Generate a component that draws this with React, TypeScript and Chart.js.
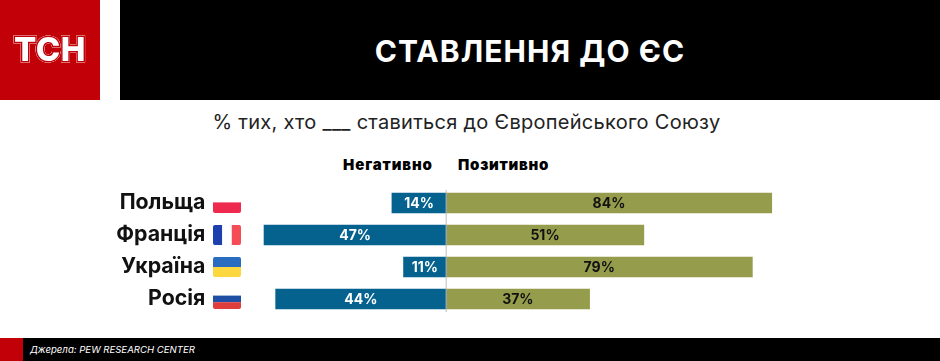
import React, { useEffect, useRef } from "react";
import { Chart, registerables } from "chart.js";

Chart.register(...registerables);

const countries = ["Польща", "Франція", "Україна", "Росія"];
const negative = [14, 47, 11, 44];
const positive = [84, 51, 79, 37];
const flags: string[][] = [
  ["#ffffff", "#ee2a4f"],
  ["#1e3fae", "#ffffff", "#f54d57"],
  ["#2a6cc0", "#fdd73f"],
  ["#ffffff", "#1e4fa5", "#df3c3c"],
];
const flagSplit = [[0, 0.47, 1], [0, 0.33, 0.67, 1], [0, 0.5, 1], [0, 0.33, 0.66, 1]];

const FONT = "Inter, 'Open Sans', sans-serif";

const overlay = {
  id: "overlay",
  afterDatasetsDraw(chart: any) {
    const { ctx, scales } = chart;
    const x = scales.x;
    const y = scales.y;
    const zero = x.getPixelForValue(0);
    ctx.save();
    ctx.strokeStyle = "#bdbdbd";
    ctx.lineWidth = 1;
    ctx.beginPath();
    ctx.moveTo(zero, y.top + 3);
    ctx.lineTo(zero, y.bottom - 3);
    ctx.stroke();

    ctx.textAlign = "center";
    ctx.textBaseline = "middle";
    ctx.font = `700 14px ${FONT}`;
    countries.forEach((_, i) => {
      const cy = y.getPixelForValue(i);
      const nx = (x.getPixelForValue(-negative[i]) + zero) / 2;
      const px = (x.getPixelForValue(positive[i]) + zero) / 2;
      ctx.fillStyle = "#ffffff";
      ctx.fillText(`${negative[i]}%`, nx, cy + 0.5);
      ctx.fillStyle = "#111111";
      ctx.fillText(`${positive[i]}%`, px, cy + 0.5);

      const fx = 213;
      const fw = 28;
      const top = cy - 10;
      const h = 20;
      ctx.save();
      ctx.beginPath();
      ctx.roundRect(fx, top, fw, h, 2);
      ctx.clip();
      const horizontal = i !== 1;
      flags[i].forEach((c, k) => {
        ctx.fillStyle = c;
        const a = flagSplit[i][k];
        const b = flagSplit[i][k + 1];
        if (horizontal) ctx.fillRect(fx, top + a * h, fw, (b - a) * h);
        else ctx.fillRect(fx + a * fw, top, (b - a) * fw, h);
      });
      ctx.restore();
    });
    ctx.restore();
  },
};

const abs = (s: React.CSSProperties): React.CSSProperties => ({ position: "absolute", ...s });

export default function App() {
  const ref = useRef<HTMLCanvasElement>(null);
  useEffect(() => {
    document.body.style.margin = "0";
    document.body.style.background = "#fff";
    const chart = new Chart(ref.current!, {
      type: "bar",
      data: {
        labels: countries,
        datasets: [
          { label: "Негативно", data: negative.map((v) => -v), backgroundColor: "#05628f", barThickness: 20 },
          { label: "Позитивно", data: positive, backgroundColor: "#959d4c", barThickness: 20 },
        ],
      },
      options: {
        indexAxis: "y",
        animation: false,
        responsive: false,
        events: [],
        layout: { padding: { top: 187, bottom: 46, right: 145, left: 0.4 } },
        plugins: { legend: { display: false }, tooltip: { enabled: false }, title: { display: false } },
        scales: {
          x: { stacked: true, min: -50, max: 90, display: false, grid: { display: false } },
          y: {
            stacked: true,
            afterFit: (s: any) => { s.width = 252; s.paddingTop = 0; s.paddingBottom = 0; },
            grid: { display: false, drawTicks: false },
            border: { display: false },
            ticks: { color: "#111", padding: 47, font: { family: FONT, size: 21.3, weight: 700 } },
          },
        },
      },
      plugins: [overlay],
    } as any);
    return () => chart.destroy();
  }, []);

  return (
    <div style={{ position: "relative", width: 940, height: 361, overflow: "hidden", fontFamily: FONT, background: "#fff" }}>
      <div style={abs({ left: 0, top: 0, width: 100, height: 100, background: "#c10008" })} />
      <div style={abs({ left: 0, top: 29, width: 100, textAlign: "center", color: "#fff", fontWeight: 800, fontSize: 33, lineHeight: "40px", letterSpacing: 0.5, WebkitTextStroke: "3px #c10008", paintOrder: "stroke fill", filter: "drop-shadow(0 0 0.6px #fff) drop-shadow(0 0 0.4px #fff)" } as React.CSSProperties)}>ТСН</div>
      <div style={abs({ left: 120, top: 0, width: 820, height: 100, background: "#000" })} />
      <div style={abs({ left: 120, top: 33, width: 820, textAlign: "center", color: "#fff", fontWeight: 700, fontSize: 30, lineHeight: "36px", letterSpacing: 1.05 })}>СТАВЛЕННЯ ДО ЄС</div>
      <div style={abs({ left: 0, top: 109, width: 933, textAlign: "center", color: "#222", fontSize: 20, lineHeight: "26px", letterSpacing: 0.28 })}>% тих, хто ___ ставиться до Європейського Союзу</div>
      <div style={abs({ left: 343, top: 156, color: "#000", fontWeight: 900, fontSize: 15, lineHeight: "18px", letterSpacing: 0.9 })}>Негативно</div>
      <div style={abs({ left: 458, top: 156, color: "#000", fontWeight: 900, fontSize: 15, lineHeight: "18px", letterSpacing: 0.75 })}>Позитивно</div>
      <canvas ref={ref} width={940} height={361} style={abs({ left: 0, top: 0 })} />
      <div style={abs({ left: 0, top: 338, width: 23, height: 23, background: "#c10008" })} />
      <div style={abs({ left: 23, top: 338, width: 917, height: 23, background: "#000" })} />
      <div style={abs({ left: 30, top: 343, color: "#fff", fontStyle: "italic", fontSize: 9.6, lineHeight: "14px" })}>Джерела: PEW RESEARCH CENTER</div>
    </div>
  );
}
